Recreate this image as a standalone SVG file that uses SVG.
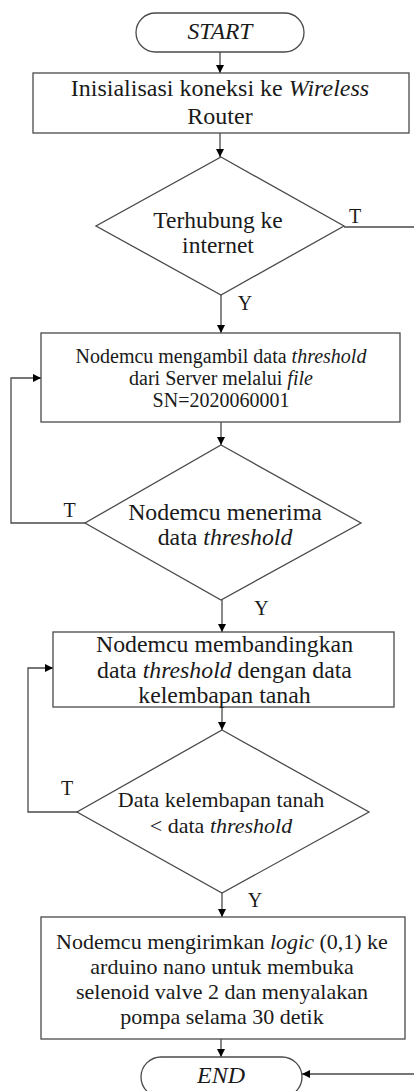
<svg xmlns="http://www.w3.org/2000/svg" width="414" height="1091" viewBox="0 0 414 1091" font-family="'Liberation Serif', 'DejaVu Serif', serif">
<style>
.s{fill:#fff;stroke:#4a4a4a;stroke-width:1.3}
.c{fill:none;stroke:#4a4a4a;stroke-width:1.3}
text{font-family:"Liberation Serif","DejaVu Serif",serif;fill:#1a1a1a;text-anchor:middle}
.i{font-style:italic}
.lbl{font-size:20px}
</style>
<defs>
<marker id="ah" viewBox="0 0 10 10" refX="10" refY="5" markerWidth="8" markerHeight="8" markerUnits="userSpaceOnUse" orient="auto">
<path d="M0,0 L10,5 L0,10 z" fill="#000"/>
</marker>
</defs>
<rect width="414" height="1091" fill="#fff"/>
<g id="connectors">
<path class="c" d="M220,52 V73" marker-end="url(#ah)"/>
<path class="c" d="M220,133 V157" marker-end="url(#ah)"/>
<path class="c" d="M221,295 V333" marker-end="url(#ah)"/>
<path class="c" d="M221,422 V445" marker-end="url(#ah)"/>
<path class="c" d="M85,523 H11 V378 H41" marker-end="url(#ah)"/>
<path class="c" d="M222,600 V632" marker-end="url(#ah)"/>
<path class="c" d="M222,707 V730" marker-end="url(#ah)"/>
<path class="c" d="M77,812 H28 V668 H53" marker-end="url(#ah)"/>
<path class="c" d="M222,893 V917" marker-end="url(#ah)"/>
<path class="c" d="M221,1039 V1057" marker-end="url(#ah)"/>
<path class="c" d="M344,227 H417 V1074 H302" marker-end="url(#ah)"/>
<text class="lbl" x="355" y="223">T</text>
<text class="lbl" x="245" y="310">Y</text>
<text class="lbl" x="69.5" y="517">T</text>
<text class="lbl" x="261.5" y="615">Y</text>
<text class="lbl" x="67" y="795">T</text>
<text class="lbl" x="255" y="907">Y</text>
</g>
<g id="start">
<rect class="s" x="136" y="13" width="168" height="39" rx="19.5" ry="19.5"/>
<text class="i" x="220" y="39" font-size="23.5">START</text>
</g>
<g id="init">
<rect class="s" x="33" y="73" width="376" height="60"/>
<text x="220" y="96" font-size="24">Inisialisasi koneksi ke <tspan class="i">Wireless</tspan></text>
<text x="220" y="124" font-size="24">Router</text>
</g>
<g id="cek-internet">
<polygon class="s" points="221,157 344,226 221,295 96,226"/>
<text x="218" y="228" font-size="23.5">Terhubung ke</text>
<text x="218" y="253" font-size="23.5">internet</text>
</g>
<g id="ambil-threshold">
<rect class="s" x="41" y="333" width="359" height="89"/>
<text x="221" y="363" font-size="20">Nodemcu mengambil data <tspan class="i">threshold</tspan></text>
<text x="221" y="385" font-size="20">dari Server melalui <tspan class="i">file</tspan></text>
<text x="221" y="407" font-size="20">SN=2020060001</text>
</g>
<g id="terima-threshold">
<polygon class="s" points="221,445 361,523 221,600 85,523"/>
<text x="225" y="520" font-size="23.8">Nodemcu menerima</text>
<text x="225" y="545" font-size="23.8">data <tspan class="i">threshold</tspan></text>
</g>
<g id="bandingkan">
<rect class="s" x="53" y="632" width="341" height="75"/>
<text x="224.5" y="652" font-size="23.8">Nodemcu membandingkan</text>
<text x="224.5" y="678" font-size="23.8">data <tspan class="i">threshold</tspan> dengan data</text>
<text x="224.5" y="703" font-size="23.8">kelembapan tanah</text>
</g>
<g id="cek-kelembapan">
<polygon class="s" points="222,730 369,812 222,893 77,812"/>
<text x="221" y="807" font-size="22">Data kelembapan tanah</text>
<text x="221" y="833" font-size="22">&lt; data <tspan class="i">threshold</tspan></text>
</g>
<g id="kirim-logic">
<rect class="s" x="41" y="917" width="364" height="122"/>
<text x="222" y="949" font-size="22">Nodemcu mengirimkan <tspan class="i">logic</tspan> (0,1) ke</text>
<text x="222" y="974" font-size="22">arduino nano untuk membuka</text>
<text x="222" y="999" font-size="22">selenoid valve 2 dan menyalakan</text>
<text x="222" y="1024" font-size="22">pompa selama 30 detik</text>
</g>
<g id="end">
<rect class="s" x="141" y="1057" width="161" height="40" rx="20" ry="20"/>
<text class="i" x="221" y="1083" font-size="24">END</text>
</g>
</svg>
